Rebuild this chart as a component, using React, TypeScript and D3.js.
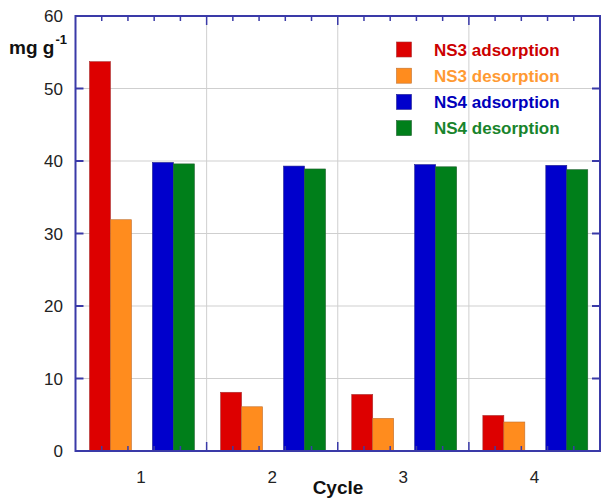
import React from "react";
import * as d3 from "d3";

// Adsorption / desorption capacity per regeneration cycle (mg g-1)
const cycles = ["1", "2", "3", "4"];
const seriesNames = ["NS3 adsorption", "NS3 desorption", "NS4 adsorption", "NS4 desorption"];
const ns3Adsorption = [53.7, 8.1, 7.8, 4.9];
const ns3Desorption = [31.9, 6.1, 4.5, 4.0];
const ns4Adsorption = [39.8, 39.3, 39.5, 39.4];
const ns4Desorption = [39.6, 38.9, 39.2, 38.8];
const yTicks = [0, 10, 20, 30, 40, 50, 60];

const barFill = ["#dd0000", "#ff8c1e", "#0000cc", "#007f1a"];
const barStroke = ["#a83030", "#c07030", "#202090", "#206030"];
const legendText = ["#cc0000", "#ff9a33", "#0000bb", "#18842c"];

const W = 601;
const H = 499;
const margin = { left: 75.5, right: 600, top: 16, bottom: 451 };
const FONT = "'Liberation Sans', Arial, Helvetica, sans-serif";
const AXIS = "#3a3aa8";
const GRID = "#cfcfcf";

export default function App() {
  const seriesValues = [ns3Adsorption, ns3Desorption, ns4Adsorption, ns4Desorption];

  const x = d3.scaleBand<string>().domain(cycles).range([margin.left, margin.right]).paddingInner(0).paddingOuter(0);
  const bw = x.bandwidth();
  // Bar slots inside one cycle, measured in bar widths
  const slot = d3.scaleLinear().domain([0, 6.25]).range([0, bw]);
  const slotStart = [2 / 3, 5 / 3, 11 / 3, 14 / 3];
  const barW = slot(1) - slot(0);

  const y = d3.scaleLinear().domain([0, 60]).range([margin.bottom, margin.top]);

  // Minor ticks along top/bottom: five per cycle
  const minorX: number[] = [];
  cycles.forEach((c) => {
    for (let k = 1; k < 5; k++) minorX.push((x(c) as number) + (bw * k) / 5);
  });
  const majorX = cycles.slice(1).map((c) => x(c) as number);

  return (
    <svg width={W} height={H} style={{ position: "absolute", left: 0, top: 0, background: "#fff" }}>
      {/* grid */}
      {yTicks.filter((t) => t > 0 && t < 60).map((t) => (
        <line key={"gy" + t} x1={margin.left} x2={margin.right} y1={y(t)} y2={y(t)} stroke={GRID} strokeWidth={1} />
      ))}
      {majorX.map((v, i) => (
        <line key={"gx" + i} x1={v} x2={v} y1={margin.top} y2={margin.bottom} stroke={GRID} strokeWidth={1} />
      ))}

      {/* bars */}
      {cycles.map((c, ci) =>
        seriesValues.map((vals, si) => (
          <rect
            key={c + "-" + si}
            x={(x(c) as number) + slot(slotStart[si])}
            y={y(vals[ci])}
            width={barW}
            height={y(0) - y(vals[ci])}
            fill={barFill[si]}
            stroke={barStroke[si]}
            strokeWidth={0.6}
          />
        ))
      )}

      {/* frame */}
      <rect x={margin.left} y={margin.top} width={margin.right - margin.left} height={margin.bottom - margin.top} fill="none" stroke={AXIS} strokeWidth={2} />

      {/* y ticks, left and right, pointing inward */}
      {yTicks.map((t) => (
        <g key={"yt" + t}>
          <line x1={margin.left} x2={margin.left + 8} y1={y(t)} y2={y(t)} stroke={AXIS} strokeWidth={2} />
          <line x1={margin.right} x2={margin.right - 8} y1={y(t)} y2={y(t)} stroke={AXIS} strokeWidth={2} />
          <text x={63} y={y(t)} dy="0.36em" textAnchor="end" fontFamily={FONT} fontSize={17} fill="#222">
            {t}
          </text>
        </g>
      ))}

      {/* x ticks, top and bottom */}
      {minorX.map((v, i) => (
        <g key={"mx" + i}>
          <line x1={v} x2={v} y1={margin.top} y2={margin.top + 5} stroke={AXIS} strokeWidth={1.5} />
          <line x1={v} x2={v} y1={margin.bottom} y2={margin.bottom - 5} stroke={AXIS} strokeWidth={1.5} />
        </g>
      ))}
      {majorX.map((v, i) => (
        <g key={"Mx" + i}>
          <line x1={v} x2={v} y1={margin.top} y2={margin.top + 9} stroke={AXIS} strokeWidth={1.5} />
          <line x1={v} x2={v} y1={margin.bottom} y2={margin.bottom - 9} stroke={AXIS} strokeWidth={1.5} />
        </g>
      ))}
      {cycles.map((c) => (
        <text key={"xl" + c} x={(x(c) as number) + bw / 2} y={483} textAnchor="middle" fontFamily={FONT} fontSize={17} fill="#222">
          {c}
        </text>
      ))}

      {/* axis titles */}
      <text x={338} y={494} textAnchor="middle" fontFamily={FONT} fontSize={19} fontWeight="bold" fill="#111">
        Cycle
      </text>
      <text x={9} y={54} fontFamily={FONT} fontSize={19} fontWeight="bold" fill="#111">
        mg g
        <tspan fontSize={13} dy={-10} dx={1}>-1</tspan>
      </text>

      {/* legend */}
      {seriesNames.map((name, i) => (
        <g key={"lg" + i} transform={`translate(0, ${49.5 + i * 26.2})`}>
          <rect x={396.5} y={-7.5} width={15} height={15} fill={barFill[i]} stroke={barStroke[i]} strokeWidth={0.6} />
          <text x={434} y={0} dy="0.36em" fontFamily={FONT} fontSize={17} fontWeight="bold" fill={legendText[i]}>
            {name}
          </text>
        </g>
      ))}
    </svg>
  );
}
